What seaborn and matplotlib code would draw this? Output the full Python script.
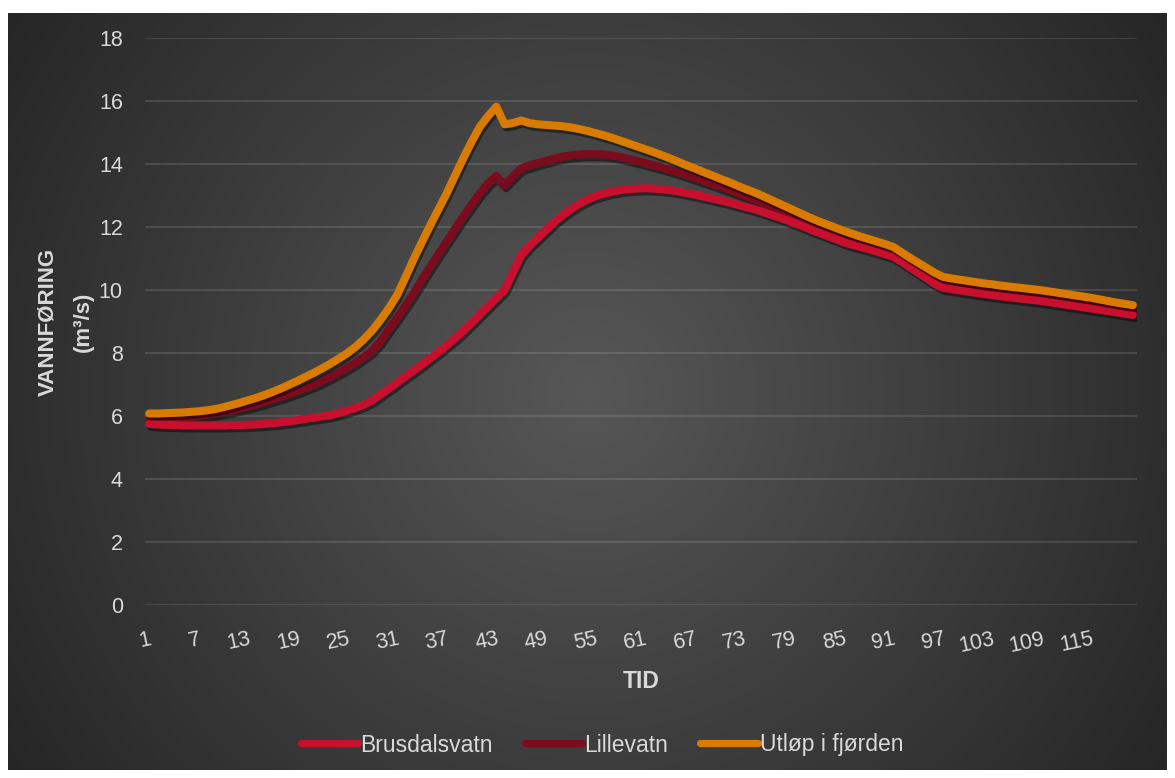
import numpy as np
import pandas as pd
import matplotlib
matplotlib.use("Agg")
import matplotlib.pyplot as plt
import matplotlib.patheffects as pe
from matplotlib.lines import Line2D
import seaborn as sns

tid = list(range(1, 121))

brusdalsvatn = [
    5.75, 5.73, 5.72, 5.71, 5.70, 5.70, 5.70, 5.70, 5.70, 5.70,
    5.71, 5.71, 5.72, 5.73, 5.75, 5.77, 5.80, 5.83, 5.87, 5.91,
    5.95, 5.99, 6.03, 6.10, 6.17, 6.26, 6.36, 6.50, 6.68, 6.87,
    7.06, 7.25, 7.44, 7.63, 7.83, 8.03, 8.24, 8.46, 8.70, 8.95,
    9.22, 9.48, 9.74, 10.00, 10.55, 11.10, 11.40, 11.65, 11.90, 12.15,
    12.37, 12.56, 12.73, 12.87, 12.98, 13.06, 13.12, 13.17, 13.20, 13.22,
    13.23, 13.22, 13.20, 13.17, 13.13, 13.08, 13.03, 12.97, 12.91, 12.85,
    12.79, 12.72, 12.65, 12.58, 12.50, 12.41, 12.32, 12.23, 12.13, 12.03,
    11.92, 11.82, 11.72, 11.62, 11.52, 11.44, 11.37, 11.30, 11.22, 11.14,
    11.06, 10.90, 10.72, 10.55, 10.38, 10.20, 10.07, 10.03, 9.99, 9.95,
    9.91, 9.87, 9.84, 9.80, 9.77, 9.74, 9.71, 9.68, 9.65, 9.61,
    9.57, 9.53, 9.49, 9.45, 9.41, 9.37, 9.33, 9.29, 9.25, 9.21,
]

lillevatn = [
    5.85, 5.86, 5.88, 5.90, 5.93, 5.96, 6.00, 6.04, 6.08, 6.13,
    6.18, 6.24, 6.30, 6.37, 6.45, 6.53, 6.61, 6.70, 6.79, 6.89,
    7.00, 7.12, 7.25, 7.39, 7.54, 7.70, 7.88, 8.08, 8.38, 8.76,
    9.12, 9.50, 9.90, 10.32, 10.74, 11.14, 11.54, 11.94, 12.33, 12.71,
    13.07, 13.38, 13.62, 13.33, 13.60, 13.86, 13.95, 14.03, 14.10, 14.17,
    14.23, 14.27, 14.30, 14.31, 14.31, 14.30, 14.27, 14.22, 14.16, 14.10,
    14.03, 13.96, 13.89, 13.81, 13.73, 13.65, 13.56, 13.47, 13.38, 13.29,
    13.20, 13.10, 13.00, 12.90, 12.80, 12.69, 12.58, 12.47, 12.36, 12.24,
    12.12, 12.00, 11.89, 11.79, 11.69, 11.60, 11.53, 11.46, 11.38, 11.30,
    11.22, 11.06, 10.88, 10.71, 10.54, 10.37, 10.22, 10.18, 10.14, 10.10,
    10.06, 10.02, 9.99, 9.95, 9.92, 9.89, 9.86, 9.83, 9.80, 9.76,
    9.72, 9.68, 9.64, 9.60, 9.56, 9.52, 9.48, 9.44, 9.40, 9.36,
]

utlop = [
    6.08, 6.08, 6.09, 6.10, 6.11, 6.13, 6.15, 6.18, 6.22, 6.28,
    6.35, 6.42, 6.50, 6.58, 6.67, 6.77, 6.88, 7.00, 7.12, 7.25,
    7.38, 7.52, 7.67, 7.83, 8.00, 8.20, 8.44, 8.72, 9.05, 9.42,
    9.84, 10.40, 10.98, 11.52, 12.05, 12.56, 13.07, 13.63, 14.18, 14.70,
    15.18, 15.52, 15.82, 15.26, 15.30, 15.38, 15.30, 15.26, 15.24, 15.22,
    15.20, 15.16, 15.11, 15.05, 14.98, 14.91, 14.83, 14.74, 14.65, 14.56,
    14.47, 14.38, 14.28, 14.18, 14.07, 13.96, 13.86, 13.75, 13.65, 13.54,
    13.44, 13.33, 13.22, 13.12, 13.01, 12.89, 12.77, 12.65, 12.53, 12.41,
    12.29, 12.18, 12.08, 11.98, 11.88, 11.79, 11.70, 11.62, 11.54, 11.46,
    11.37, 11.20, 11.03, 10.87, 10.71, 10.55, 10.42, 10.37, 10.33, 10.29,
    10.25, 10.21, 10.18, 10.14, 10.11, 10.08, 10.05, 10.02, 9.99, 9.95,
    9.91, 9.87, 9.83, 9.79, 9.75, 9.70, 9.65, 9.60, 9.56, 9.52,
]

serier = ["Brusdalsvatn", "Lillevatn", "Utløp i fjørden"]
farger = {"Brusdalsvatn": "#C8102E", "Lillevatn": "#7A0C1E", "Utløp i fjørden": "#D97B00"}
x_ticks = list(range(1, 121, 6))
y_ticks = list(range(0, 19, 2))

df = pd.DataFrame({
    "TID": tid * 3,
    "Vannføring": brusdalsvatn + lillevatn + utlop,
    "Serie": [s for s in serier for _ in tid],
})

sns.set_theme(style="dark")
plt.rcParams["font.family"] = ["Liberation Sans", "DejaVu Sans"]
tekst = "#D9D9D9"

fig = plt.figure(figsize=(11.75, 7.78), dpi=100)
fig.patch.set_facecolor("white")

# mørk bakgrunn med radial gradient
W, H = 1159, 757
bg = fig.add_axes([8 / 1175, 8 / 778, W / 1175, H / 778])
yy, xx = np.mgrid[0:H, 0:W]
r = np.hypot(xx - W / 2, yy - H / 2) / np.hypot(W / 2, H / 2)
shade = (0x57 - (0x57 - 0x26) * r) / 255
bg.imshow(np.dstack([shade] * 3), aspect="auto", interpolation="bilinear")
bg.axis("off")

ax = fig.add_axes([145 / 1175, 1 - 605 / 778, 992 / 1175, 567 / 778])
ax.set_facecolor("none")

skygge = [pe.SimpleLineShadow(offset=(1.2, -2.2), shadow_color="black", alpha=0.45),
          pe.Normal()]
for s in ["Lillevatn", "Brusdalsvatn", "Utløp i fjørden"]:
    sns.lineplot(data=df[df["Serie"] == s], x="TID", y="Vannføring",
                 color=farger[s], linewidth=5.8, ax=ax, legend=False,
                 solid_capstyle="round", solid_joinstyle="round",
                 path_effects=skygge)

ax.set_xlim(0.5, 120.5)
ax.set_ylim(0, 18)
ax.set_yticks(y_ticks)
ax.set_xticks(x_ticks)
ax.set_xticklabels([str(t) for t in x_ticks], rotation=12, ha="right",
                   va="top", rotation_mode="anchor")
ax.tick_params(axis="x", length=0, pad=17, labelsize=15.5, labelcolor=tekst)
ax.tick_params(axis="y", length=0, pad=16, labelsize=15.5, labelcolor=tekst)
ax.grid(axis="y", color="white", alpha=0.12, linewidth=1.4)
ax.grid(axis="x", visible=False)
for sp in ax.spines.values():
    sp.set_visible(False)

ax.set_xlabel("")
ax.set_ylabel("")
ax.text(0.5, -(682 - 605) / 567, "TID", transform=ax.transAxes, ha="center",
        va="center", fontsize=16.5, fontweight="bold", color=tekst)
ax.text(-(145 - 66) / 992, 0.5, "VANNFØRING\n(m³/s)", transform=ax.transAxes,
        rotation=90, ha="center", va="center", multialignment="center",
        fontsize=16, fontweight="bold", color=tekst, linespacing=1.9)

handles = [Line2D([0], [0], color=farger[s], lw=5.2, solid_capstyle="round")
           for s in serier]
ax.legend(handles, serier, loc="center", bbox_to_anchor=(602 / 1175, 1 - 745 / 778),
          bbox_transform=fig.transFigure, ncol=3, frameon=False, fontsize=16.5,
          handlelength=2.5, handletextpad=0.1, columnspacing=1.4,
          labelcolor=tekst)

fig.savefig("out.png", dpi=100)
